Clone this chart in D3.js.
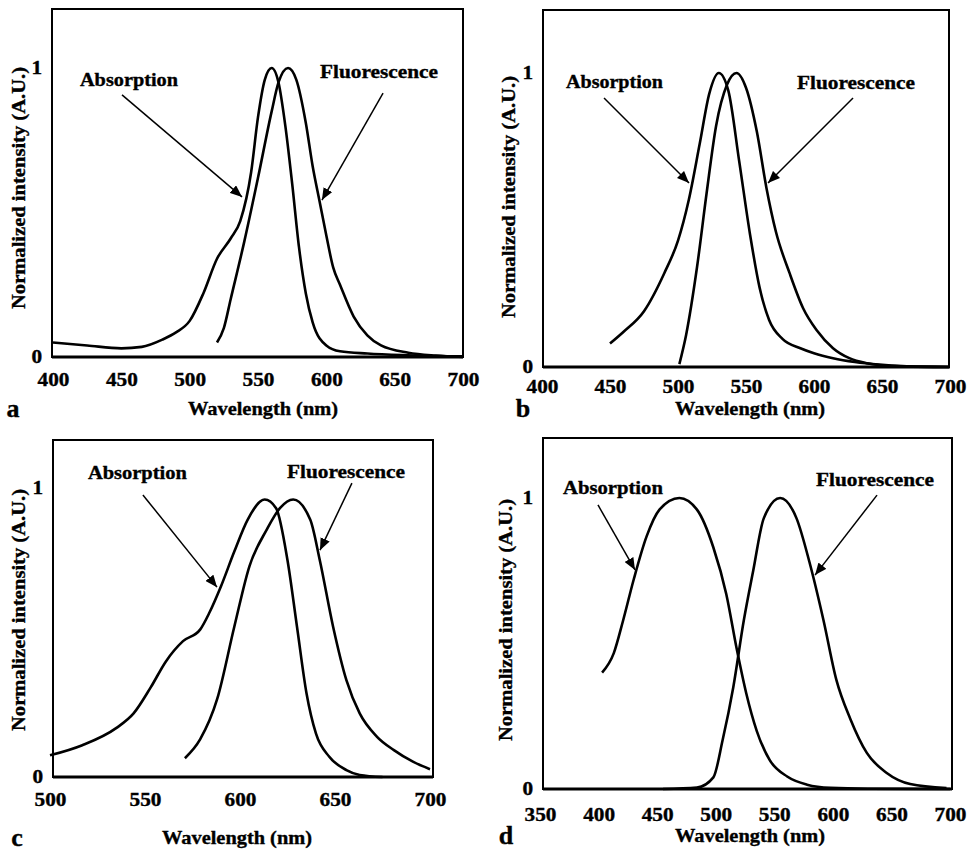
<!DOCTYPE html>
<html><head><meta charset="utf-8">
<script src="https://cdn.jsdelivr.net/npm/d3@7/dist/d3.min.js"></script>
<style>
body{margin:0;background:#fff}
svg{display:block}
text{font-family:"Liberation Serif","Times New Roman",serif;font-weight:bold;fill:#000;stroke:#000;stroke-width:0.35px}
</style>
</head><body>
<svg id="chart" width="967" height="852"></svg>
<script>
// ---------------- DATA ----------------
const seriesNames = ["Absorption", "Fluorescence"];
const xTitle = "Wavelength (nm)";
const yTitle = "Normalized intensity (A.U.)";
const yTickValues = [0, 1];

// Panel a
const aTicks = [400, 450, 500, 550, 600, 650, 700];
const aAbsWl = [400,425,450,465,480,490,500,510,520,530,537,545,550,555,560,565,570,575,580,585,590,600,610,630,660,700];
const aAbsI  = [0.05,0.04,0.03,0.035,0.06,0.085,0.125,0.22,0.34,0.41,0.47,0.64,0.83,0.96,1.0,0.95,0.80,0.60,0.38,0.22,0.12,0.04,0.02,0.012,0.006,0.002];
const aFluWl = [520,525,530,540,550,560,565,572,578,585,590,595,600,605,610,620,630,640,660,680,700];
const aFluI  = [0.05,0.10,0.20,0.40,0.62,0.85,0.95,1.0,0.96,0.81,0.66,0.54,0.42,0.31,0.25,0.14,0.075,0.04,0.015,0.005,0.0];

// Panel b
const bTicks = [400, 450, 500, 550, 600, 650, 700];
const bAbsWl = [450,460,475,490,500,508,516,523,530,537,545,553,560,567,577,590,600,614,630,648,665,700];
const bAbsI  = [0.08,0.12,0.19,0.32,0.43,0.57,0.76,0.93,1.0,0.94,0.70,0.45,0.27,0.16,0.095,0.064,0.047,0.03,0.017,0.008,0.003,0.0];
const bFluWl = [501,506,514,521,528,536,543,550,558,565,572,582,592,602,614,626,639,660,700];
const bFluI  = [0.01,0.11,0.34,0.59,0.82,0.96,1.0,0.95,0.80,0.61,0.46,0.32,0.20,0.125,0.064,0.03,0.013,0.003,0.0];

// Panel c
const cTicks = [500, 550, 600, 650, 700];
const cAbsWl = [500,517,535,544,553,561,570,579,584,590,597,604,613,619,625,630,635,640,647,656,663,675];
const cAbsI  = [0.075,0.11,0.17,0.22,0.31,0.40,0.47,0.51,0.57,0.66,0.78,0.89,0.96,0.93,0.75,0.52,0.29,0.15,0.07,0.024,0.007,0.0];
const cFluWl = [571,579,588,597,605,614,621,628,637,642,649,656,663,672,681,691,700];
const cFluI  = [0.065,0.13,0.27,0.52,0.73,0.855,0.93,0.96,0.89,0.75,0.52,0.335,0.22,0.14,0.093,0.053,0.027];

// Panel d
const dTicks = [350, 400, 450, 500, 550, 600, 650, 700];
const dAbsWl = [403,413,421,430,441,452,469,484,498,509,518,526,535,546,561,578,598,630,700];
const dAbsI  = [0.40,0.467,0.58,0.72,0.868,0.96,1.0,0.96,0.83,0.67,0.48,0.33,0.20,0.10,0.043,0.015,0.004,0.001,0.0];
const dFluWl = [455,484,498,506,515,524,532,541,555,569,580,592,603,615,629,646,666,697];
const dFluI  = [0.0,0.005,0.04,0.17,0.35,0.58,0.75,0.93,1.0,0.93,0.78,0.58,0.375,0.24,0.124,0.055,0.017,0.003];

// Annotation anchors in data units: [label wl, label I, arrow-start wl, I, arrow-end wl, I]
const aAbsNote = [455.6, 0.958, 450.5, 0.907, 538.3, 0.554];
const aFluNote = [638.5, 0.986, 641.5, 0.913, 596.8, 0.543];
const bAbsNote = [453.3, 0.969, 445.6, 0.915, 508.1, 0.626];
const bFluNote = [630.9, 0.966, 628.7, 0.915, 566.2, 0.626];
const cAbsNote = [546.0, 1.052, 548.9, 0.976, 587.9, 0.657];
const cFluNote = [655.8, 1.055, 658.9, 1.017, 642.1, 0.785];
const dAbsNote = [412.3, 1.034, 399.5, 0.976, 431.1, 0.753];
const dFluNote = [636.0, 1.062, 637.7, 1.010, 584.8, 0.735];

const panelLetters = ["a", "b", "c", "d"];

// ---------------- LAYOUT ----------------
const panels = [
  {letter: panelLetters[0], ticks: aTicks, abs: [aAbsWl, aAbsI], flu: [aFluWl, aFluI], notes: [aAbsNote, aFluNote],
   frame: {l: 52, r: 463, t: 9}, xr: [53, 463], yr: [357, 68], xPad: 16,
   xTitlePos: [263, 408], yTitlePos: [18, 188], letterPos: [13, 408], absW: 98, fluW: 118},
  {letter: panelLetters[1], ticks: bTicks, abs: [bAbsWl, bAbsI], flu: [bFluWl, bFluI], notes: [bAbsNote, bFluNote],
   frame: {l: 543, r: 949, t: 10}, xr: [542, 950], yr: [367, 73], xPad: 13,
   xTitlePos: [750, 408], yTitlePos: [508, 197], letterPos: [523, 408], absW: 97, fluW: 118},
  {letter: panelLetters[2], ticks: cTicks, abs: [cAbsWl, cAbsI], flu: [cFluWl, cFluI], notes: [cAbsNote, cFluNote],
   frame: {l: 53, r: 433, t: 440}, xr: [50, 430], yr: [777, 488], xPad: 16,
   xTitlePos: [237, 837], yTitlePos: [18, 610], letterPos: [17, 837], absW: 99, fluW: 118},
  {letter: panelLetters[3], ticks: dTicks, abs: [dAbsWl, dAbsI], flu: [dFluWl, dFluI], notes: [dAbsNote, dFluNote],
   frame: {l: 543, r: 952, t: 438}, xr: [540, 950], yr: [789, 498], xPad: 19,
   xTitlePos: [750, 835], yTitlePos: [505, 620], letterPos: [506, 835], absW: 100, fluW: 118}
];

const svg = d3.select("#chart");
svg.append("defs").append("marker")
  .attr("id", "arrowhead").attr("markerUnits", "userSpaceOnUse")
  .attr("markerWidth", 13).attr("markerHeight", 10)
  .attr("refX", 12).attr("refY", 5).attr("orient", "auto")
  .append("path").attr("d", "M0,0 L12,5 L0,10 Z").attr("fill", "#000");

function stretch(sel, f) {
  sel.each(function () {
    const w = this.getComputedTextLength();
    this.setAttribute("textLength", w * f);
    this.setAttribute("lengthAdjust", "spacingAndGlyphs");
  });
}
function fitTo(sel, w) {
  sel.attr("textLength", w).attr("lengthAdjust", "spacingAndGlyphs");
}

panels.forEach(p => {
  const dom = p.ticks;
  const x = d3.scaleLinear().domain([dom[0], dom[dom.length - 1]]).range(p.xr);
  const y = d3.scaleLinear().domain([0, 1]).range(p.yr);
  const g = svg.append("g");
  const bottom = y(0);

  // frame
  g.append("rect").attr("x", p.frame.l).attr("y", p.frame.t)
    .attr("width", p.frame.r - p.frame.l).attr("height", bottom - p.frame.t)
    .attr("fill", "none").attr("stroke", "#000").attr("stroke-width", 2);
  g.append("line").attr("x1", p.frame.l).attr("x2", p.frame.r)
    .attr("y1", bottom).attr("y2", bottom).attr("stroke", "#000").attr("stroke-width", 3);

  // axes
  const xa = g.append("g").attr("transform", `translate(0,${bottom})`)
    .call(d3.axisBottom(x).tickValues(p.ticks).tickSize(0).tickPadding(p.xPad).tickFormat(d3.format("d")));
  xa.select(".domain").remove();
  xa.selectAll("text").attr("font-size", 18).attr("font-family", null).attr("fill", "#000");
  stretch(xa.selectAll("text"), 1.18);

  const ya = g.append("g").attr("transform", `translate(${p.frame.l},0)`)
    .call(d3.axisLeft(y).tickValues(yTickValues).tickSize(0).tickPadding(10).tickFormat(d3.format("d")));
  ya.select(".domain").remove();
  ya.selectAll("text").attr("font-size", 18).attr("font-family", null).attr("fill", "#000");
  stretch(ya.selectAll("text"), 1.18);

  // curves
  const line = d3.line().curve(d3.curveMonotoneX);
  [p.abs, p.flu].forEach(s => {
    const pts = s[0].map((wl, i) => [x(wl), y(s[1][i])]);
    g.append("path").attr("d", line(pts)).attr("fill", "none")
      .attr("stroke", "#000").attr("stroke-width", 2.6).attr("stroke-linejoin", "round");
  });

  // annotations
  p.notes.forEach((n, i) => {
    const t = g.append("text").attr("x", x(n[0])).attr("y", y(n[1]))
      .attr("text-anchor", "middle").attr("dominant-baseline", "central")
      .attr("font-size", 18).text(seriesNames[i]);
    fitTo(t, i === 0 ? p.absW : p.fluW);
    g.append("line").attr("x1", x(n[2])).attr("y1", y(n[3]))
      .attr("x2", x(n[4])).attr("y2", y(n[5]))
      .attr("stroke", "#000").attr("stroke-width", 1.5)
      .attr("marker-end", "url(#arrowhead)");
  });

  // titles
  const xt = g.append("text").attr("x", p.xTitlePos[0]).attr("y", p.xTitlePos[1])
    .attr("text-anchor", "middle").attr("dominant-baseline", "central")
    .attr("font-size", 19).text(xTitle);
  fitTo(xt, 150);
  const yt = g.append("text")
    .attr("transform", `translate(${p.yTitlePos[0]},${p.yTitlePos[1]}) rotate(-90)`)
    .attr("text-anchor", "middle").attr("dominant-baseline", "central")
    .attr("font-size", 19).text(yTitle);
  fitTo(yt, 242);

  g.append("text").attr("x", p.letterPos[0]).attr("y", p.letterPos[1])
    .attr("text-anchor", "middle").attr("dominant-baseline", "central")
    .attr("font-size", 26).text(p.letter);
});
</script>
</body></html>
